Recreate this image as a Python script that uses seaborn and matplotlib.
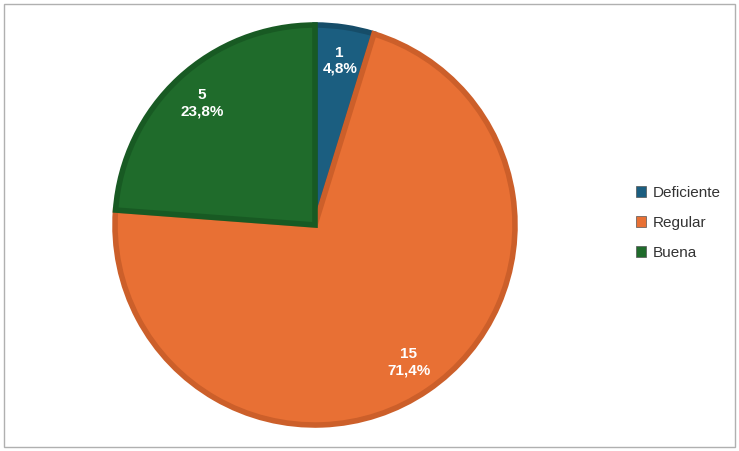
import matplotlib
matplotlib.use("Agg")
import matplotlib.pyplot as plt
import seaborn as sns
import numpy as np
from matplotlib.patches import Patch

sns.set_style("white")
plt.rcParams['font.family'] = ['Liberation Sans', 'DejaVu Sans']

categories = ['Deficiente', 'Regular', 'Buena']
counts = [1, 15, 5]
colors = ['#1b5e80', '#e87034', '#1f6b2b']
edges = ['#164d69', '#cc5f2a', '#185a23']

total = sum(counts)

fig = plt.figure(figsize=(7.39, 4.51), dpi=100)
# outer frame
fig.patches.append(plt.Rectangle((0.006, 0.009), 0.988, 0.982, transform=fig.transFigure,
                                 fill=False, edgecolor='#b0b0b0', linewidth=1))
R = 200
ax = fig.add_axes([(315 - R) / 739, (451 - 225 - R) / 451, 2 * R / 739, 2 * R / 451])

wedges, _ = ax.pie(counts, colors=colors, startangle=90, counterclock=False,
                   radius=1.0, wedgeprops=dict(linewidth=4))
for w, ec in zip(wedges, edges):
    w.set_edgecolor(ec)

angle = 90
for c in counts:
    span = 360 * c / total
    mid = np.deg2rad(angle - span / 2)
    r = 0.83
    ax.text(r * np.cos(mid), r * np.sin(mid), f"{c}\n{100*c/total:.1f}%".replace('.', ','),
            ha='center', va='center', color='white', fontsize=11, fontweight='bold',
            linespacing=1.2)
    angle -= span
ax.set_xlim(-1, 1)
ax.set_ylim(-1, 1)
ax.set_aspect('auto')

handles = [Patch(facecolor=c, edgecolor='#555555', linewidth=0.5) for c in colors]
fig.legend(handles, categories, loc='center left', bbox_to_anchor=(622/739, (451-223)/451),
           frameon=False, fontsize=11, handlelength=0.7, handleheight=0.7,
           labelspacing=1.05, handletextpad=0.4, labelcolor='#333333')

fig.savefig('out.png', dpi=100)
